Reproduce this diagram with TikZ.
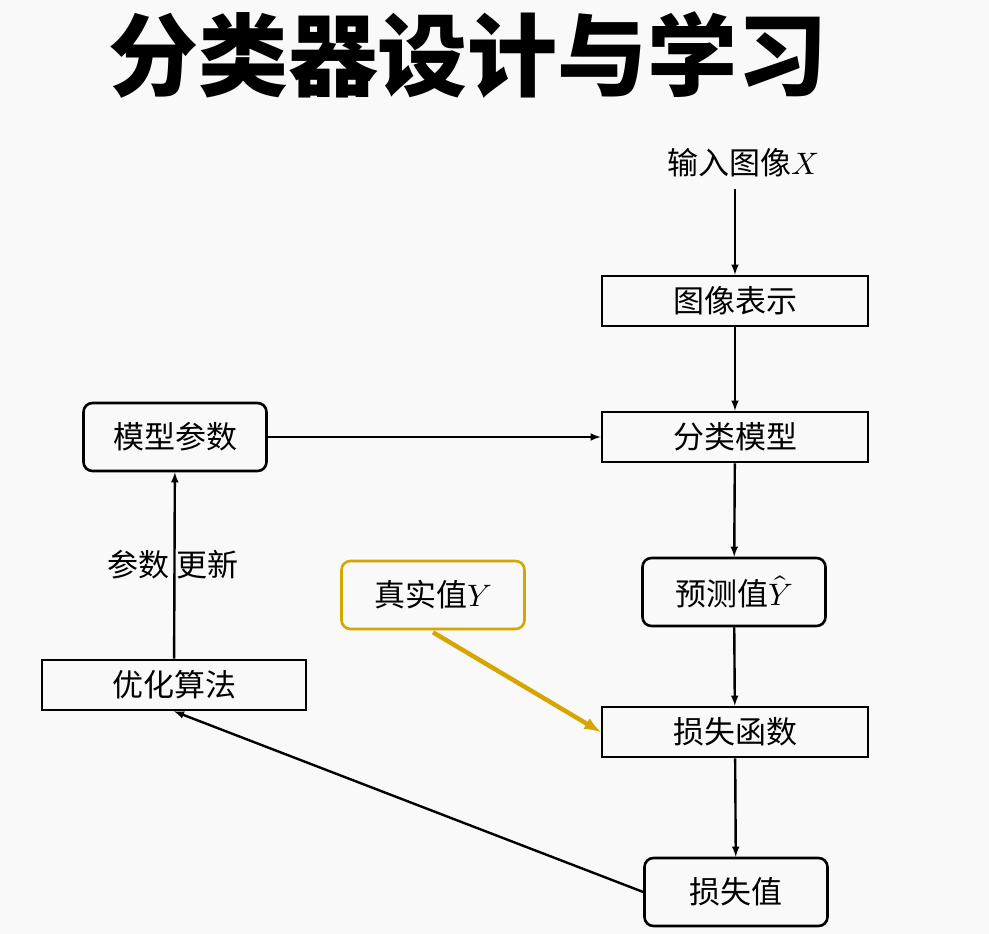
\documentclass[tikz,border=0pt]{standalone}
\usepackage{fontspec}
\setmainfont{Noto Sans CJK SC}
\usepackage{unicode-math}
\setmathfont{Latin Modern Math}
\begin{document}
\begin{tikzpicture}[x=1pt,y=-1pt,
  sq/.style={draw,line width=2.6pt,minimum width=266pt,minimum height=50pt,inner sep=0pt,font=\fontsize{31}{33}\selectfont},
  rd/.style={draw,line width=2.6pt,rounded corners=9pt,minimum width=183pt,minimum height=68pt,inner sep=0pt,font=\fontsize{31}{33}\selectfont},
  ar/.style={-latex,line width=2.4pt}]
\fill[gray!5] (0,0) rectangle (989,934);
\useasboundingbox (0,0) rectangle (989,934);
\node (title) at (468,55) {\fontsize{90}{96}\selectfont\bfseries 分类器设计与学习};
\node[font=\fontsize{31}{33}\selectfont] (in) at (743,163) {输入图像$X$};
\node[sq] (rep) at (735,301) {图像表示};
\node[sq] (cls) at (735,437) {分类模型};
\node[rd] (par) at (175,437) {模型参数};
\node[rd] (pred) at (734,592) {预测值$\hat{Y}$};
\node[rd,draw={rgb,255:red,214;green,166;blue,0}] (gt) at (433,595) {真实值$Y$};
\node[sq] (loss) at (735,732) {损失函数};
\node[sq,minimum width=264pt] (opt) at (174,685) {优化算法};
\node[rd] (lv) at (736,892) {损失值};
\node[font=\fontsize{31}{33}\selectfont] (upd) at (173,565) {参数 更新};
\draw[ar] (in.south -| rep.north) ++(0,8) -- (rep.north);
\draw[ar] (rep) -- (cls);
\draw[ar] (par) -- (cls);
\draw[ar] (cls) -- (pred);
\draw[ar] (pred) -- (loss);
\draw[ar,line width=4.5pt,draw={rgb,255:red,214;green,166;blue,0}] (gt.south) ++(0,2) -- (loss.west);
\draw[ar] (loss) -- (lv);
\draw[ar] (lv.west) -- (opt.south);
\draw[ar] (opt) -- (par);
\end{tikzpicture}
\end{document}
